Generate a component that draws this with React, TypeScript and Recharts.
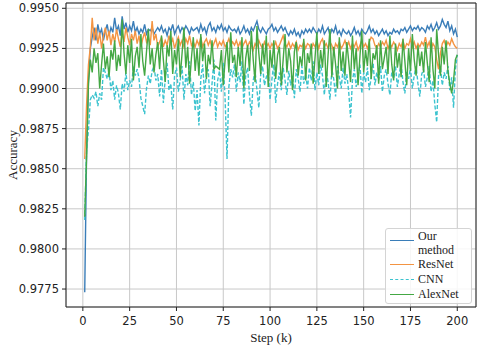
import React from "react";
import { CartesianGrid, Line, LineChart, ReferenceLine, XAxis, YAxis } from "recharts";

// accuracy per step (k), steps 1..200
const ourMethod = [
  0.9773, 0.9860, 0.9905, 0.9925, 0.9932, 0.9938, 0.9930, 0.9940, 0.9934, 0.9937,
  0.9930, 0.9936, 0.9940, 0.9933, 0.9938, 0.9935, 0.9944, 0.9936, 0.9939, 0.9933,
  0.9945, 0.9937, 0.9941, 0.9935, 0.9939, 0.9936, 0.9942, 0.9935, 0.9938, 0.9934,
  0.9937, 0.9935, 0.9940, 0.9934, 0.9937, 0.9936, 0.9938, 0.9934, 0.9936, 0.9938,
  0.9936, 0.9939, 0.9935, 0.9937, 0.9933, 0.9938, 0.9936, 0.9940, 0.9934, 0.9937,
  0.9939, 0.9935, 0.9938, 0.9936, 0.9939, 0.9937, 0.9934, 0.9938, 0.9936, 0.9937,
  0.9938, 0.9935, 0.9940, 0.9936, 0.9938, 0.9934, 0.9939, 0.9941, 0.9936, 0.9938,
  0.9935, 0.9939, 0.9937, 0.9940, 0.9936, 0.9938, 0.9935, 0.9939, 0.9937, 0.9936,
  0.9937, 0.9935, 0.9938, 0.9934, 0.9936, 0.9939, 0.9935, 0.9937, 0.9934, 0.9938,
  0.9936, 0.9939, 0.9942, 0.9937, 0.9935, 0.9938, 0.9936, 0.9934, 0.9937, 0.9938,
  0.9940, 0.9936, 0.9938, 0.9935, 0.9937, 0.9939, 0.9936, 0.9938, 0.9935, 0.9933,
  0.9936, 0.9934, 0.9937, 0.9933, 0.9935, 0.9932, 0.9936, 0.9934, 0.9937, 0.9935,
  0.9937, 0.9935, 0.9938, 0.9936, 0.9934, 0.9937, 0.9935, 0.9939, 0.9934, 0.9936,
  0.9938, 0.9933, 0.9937, 0.9935, 0.9939, 0.9934, 0.9936, 0.9933, 0.9937, 0.9935,
  0.9934, 0.9936, 0.9933, 0.9935, 0.9938, 0.9934, 0.9936, 0.9933, 0.9937, 0.9935,
  0.9934, 0.9936, 0.9939, 0.9935, 0.9937, 0.9934, 0.9936, 0.9933, 0.9935, 0.9937,
  0.9934, 0.9936, 0.9933, 0.9935, 0.9934, 0.9937, 0.9935, 0.9936, 0.9934, 0.9937,
  0.9936, 0.9938, 0.9935, 0.9937, 0.9939, 0.9936, 0.9938, 0.9937, 0.9939, 0.9936,
  0.9938, 0.9937, 0.9935, 0.9939, 0.9937, 0.9940, 0.9936, 0.9938, 0.9941, 0.9937,
  0.9939, 0.9943, 0.9940, 0.9938, 0.9942, 0.9936, 0.9939, 0.9934, 0.9937, 0.9932,
];

const resNet = [
  0.9856, 0.9890, 0.9915, 0.9926, 0.9944, 0.9930, 0.9938, 0.9928, 0.9935, 0.9925,
  0.9933, 0.9938, 0.9930, 0.9936, 0.9927, 0.9934, 0.9929, 0.9937, 0.9931, 0.9926,
  0.9935, 0.9929, 0.9938, 0.9932, 0.9927, 0.9934, 0.9930, 0.9936, 0.9928, 0.9933,
  0.9926, 0.9931, 0.9935, 0.9929, 0.9932, 0.9927, 0.9942, 0.9930, 0.9934, 0.9926,
  0.9929, 0.9932, 0.9926, 0.9930, 0.9927, 0.9933, 0.9928, 0.9931, 0.9925, 0.9929,
  0.9932, 0.9927, 0.9930, 0.9926, 0.9931, 0.9928, 0.9933, 0.9927, 0.9929, 0.9926,
  0.9930, 0.9927, 0.9932, 0.9926, 0.9929, 0.9931, 0.9927, 0.9930, 0.9925, 0.9928,
  0.9931, 0.9926, 0.9929, 0.9927, 0.9930, 0.9926, 0.9928, 0.9931, 0.9927, 0.9929,
  0.9927, 0.9930, 0.9926, 0.9929, 0.9925, 0.9928, 0.9930, 0.9926, 0.9929, 0.9927,
  0.9924, 0.9928, 0.9926, 0.9930, 0.9927, 0.9925, 0.9929, 0.9926, 0.9928, 0.9925,
  0.9928, 0.9926, 0.9929, 0.9925, 0.9927, 0.9930, 0.9933, 0.9928, 0.9926, 0.9929,
  0.9925, 0.9928, 0.9926, 0.9929, 0.9924, 0.9927, 0.9926, 0.9929, 0.9925, 0.9928,
  0.9927, 0.9924, 0.9928, 0.9926, 0.9930, 0.9925, 0.9929, 0.9931, 0.9926, 0.9928,
  0.9925, 0.9929, 0.9927, 0.9923, 0.9928, 0.9926, 0.9929, 0.9925, 0.9927, 0.9930,
  0.9926, 0.9929, 0.9925, 0.9928, 0.9926, 0.9929, 0.9924, 0.9927, 0.9930, 0.9926,
  0.9928, 0.9925, 0.9929, 0.9932, 0.9931, 0.9927, 0.9925, 0.9928, 0.9926, 0.9929,
  0.9927, 0.9930, 0.9925, 0.9928, 0.9926, 0.9929, 0.9927, 0.9924, 0.9928, 0.9926,
  0.9930, 0.9925, 0.9928, 0.9927, 0.9931, 0.9926, 0.9929, 0.9925, 0.9928, 0.9926,
  0.9929, 0.9927, 0.9932, 0.9926, 0.9929, 0.9924, 0.9928, 0.9926, 0.9918, 0.9912,
  0.9922, 0.9928, 0.9930, 0.9926, 0.9929, 0.9927, 0.9931, 0.9928, 0.9926, 0.9925,
];

const cnn = [
  0.9818, 0.9862, 0.9874, 0.9893, 0.9896, 0.9894, 0.9898, 0.9889, 0.9897, 0.9893,
  0.9913, 0.9910, 0.9906, 0.9911, 0.9899, 0.9905, 0.9893, 0.9902, 0.9897, 0.9887,
  0.9903, 0.9898, 0.9910, 0.9899, 0.9905, 0.9901, 0.9914, 0.9908, 0.9912, 0.9906,
  0.9894, 0.9889, 0.9884, 0.9900, 0.9908, 0.9903, 0.9911, 0.9914, 0.9905, 0.9909,
  0.9895, 0.9912, 0.9891, 0.9906, 0.9916, 0.9899, 0.9903, 0.9887, 0.9908, 0.9913,
  0.9898, 0.9905, 0.9914, 0.9893, 0.9909, 0.9902, 0.9917, 0.9896, 0.9904, 0.9886,
  0.9899, 0.9877, 0.9906, 0.9915, 0.9897, 0.9909, 0.9912, 0.9889, 0.9903, 0.9918,
  0.9880, 0.9905, 0.9911, 0.9898, 0.9916, 0.9893, 0.9856, 0.9901, 0.9912, 0.9907,
  0.9915, 0.9898, 0.9910, 0.9904, 0.9917, 0.9890, 0.9908, 0.9913, 0.9896, 0.9883,
  0.9905, 0.9911, 0.9899, 0.9888, 0.9909, 0.9914, 0.9902, 0.9907, 0.9912, 0.9893,
  0.9906, 0.9915, 0.9891, 0.9903, 0.9910, 0.9899, 0.9913, 0.9905, 0.9896, 0.9911,
  0.9902, 0.9908, 0.9894, 0.9912, 0.9906, 0.9898, 0.9914, 0.9903, 0.9909, 0.9900,
  0.9913, 0.9905, 0.9917, 0.9899, 0.9910, 0.9902, 0.9915, 0.9908, 0.9896, 0.9911,
  0.9904, 0.9893, 0.9912, 0.9906, 0.9895, 0.9914, 0.9907, 0.9900, 0.9913, 0.9903,
  0.9909, 0.9898, 0.9882, 0.9905, 0.9912, 0.9901, 0.9908, 0.9915, 0.9897, 0.9910,
  0.9904, 0.9913, 0.9899, 0.9907, 0.9916, 0.9902, 0.9910, 0.9905, 0.9914, 0.9898,
  0.9908, 0.9912, 0.9903, 0.9896, 0.9910, 0.9906, 0.9914, 0.9901, 0.9909, 0.9915,
  0.9904, 0.9897, 0.9911, 0.9906, 0.9913, 0.9900, 0.9908, 0.9914, 0.9903, 0.9895,
  0.9909, 0.9912, 0.9901, 0.9907, 0.9914, 0.9898, 0.9905, 0.9890, 0.9879, 0.9908,
  0.9913, 0.9902, 0.9910, 0.9906, 0.9914, 0.9899, 0.9907, 0.9888, 0.9912, 0.9921,
];

const alexNet = [
  0.9820, 0.9858, 0.9903, 0.9918, 0.9910, 0.9925, 0.9916, 0.9922, 0.9900, 0.9915,
  0.9928, 0.9912, 0.9920, 0.9907, 0.9924, 0.9918, 0.9930, 0.9911, 0.9921, 0.9914,
  0.9943, 0.9922, 0.9909, 0.9927, 0.9916, 0.9931, 0.9905, 0.9920, 0.9926, 0.9913,
  0.9934, 0.9917, 0.9908, 0.9923, 0.9937, 0.9915, 0.9925, 0.9910, 0.9921, 0.9929,
  0.9912, 0.9933, 0.9918, 0.9904, 0.9927, 0.9920, 0.9936, 0.9909, 0.9924, 0.9915,
  0.9931, 0.9907, 0.9922, 0.9938, 0.9913, 0.9926, 0.9903, 0.9919, 0.9932, 0.9911,
  0.9925, 0.9908, 0.9934, 0.9917, 0.9928, 0.9906, 0.9921, 0.9915, 0.9930, 0.9912,
  0.9914, 0.9913, 0.9912, 0.9924, 0.9902, 0.9918, 0.9929, 0.9910, 0.9935, 0.9916,
  0.9921, 0.9907, 0.9926, 0.9914, 0.9932, 0.9900, 0.9919, 0.9927, 0.9911, 0.9936,
  0.9918, 0.9904, 0.9939, 0.9922, 0.9909, 0.9928, 0.9915, 0.9933, 0.9901, 0.9924,
  0.9913, 0.9930, 0.9906, 0.9921, 0.9926, 0.9902, 0.9918, 0.9934, 0.9910, 0.9925,
  0.9917, 0.9899, 0.9923, 0.9929, 0.9908, 0.9920, 0.9914, 0.9931, 0.9905, 0.9922,
  0.9916, 0.9928, 0.9903, 0.9919, 0.9935, 0.9909, 0.9924, 0.9913, 0.9930, 0.9901,
  0.9921, 0.9937, 0.9907, 0.9926, 0.9915, 0.9900, 0.9932, 0.9911, 0.9923, 0.9908,
  0.9929, 0.9917, 0.9904, 0.9933, 0.9912, 0.9925, 0.9902, 0.9920, 0.9936, 0.9910,
  0.9924, 0.9914, 0.9931, 0.9906, 0.9922, 0.9918, 0.9927, 0.9903, 0.9930, 0.9912,
  0.9919, 0.9926, 0.9909, 0.9933, 0.9915, 0.9905, 0.9928, 0.9913, 0.9922, 0.9907,
  0.9931, 0.9917, 0.9902, 0.9925, 0.9911, 0.9934, 0.9918, 0.9908, 0.9927, 0.9914,
  0.9923, 0.9910, 0.9929, 0.9916, 0.9904, 0.9932, 0.9912, 0.9900, 0.9937, 0.9921,
  0.9908, 0.9926, 0.9915, 0.9930, 0.9911, 0.9903, 0.9897, 0.9905, 0.9918, 0.9921,
];

const xTicks = [0, 25, 50, 75, 100, 125, 150, 175, 200];
const yTicks = [0.9775, 0.98, 0.9825, 0.985, 0.9875, 0.99, 0.9925, 0.995];

const data = ourMethod.map((v, i) => ({
  step: i + 1,
  ours: v,
  resnet: resNet[i],
  cnn: cnn[i],
  alexnet: alexNet[i],
}));

const X_MIN = -9;
const X_MAX = 210;
const Y_MIN = 0.97638;
const Y_MAX = 0.99533;

const tickStyle = { fontFamily: "DejaVu Sans", fontSize: 11.5, fill: "#222" };
const serif = "'Liberation Serif', 'Times New Roman', serif";

const legendItems = [
  { label: ["Our", "method"], color: "#3a7db8", dash: false, textTop: 0, lineTop: 11 },
  { label: ["ResNet"], color: "#f39442", dash: false, textTop: 28, lineTop: 35 },
  { label: ["CNN"], color: "#3cc3cf", dash: true, textTop: 43, lineTop: 50 },
  { label: ["AlexNet"], color: "#44a844", dash: false, textTop: 58, lineTop: 65 },
];

const LegendBox = () => (
  <div
    style={{
      position: "absolute",
      left: 385,
      top: 228,
      width: 85,
      height: 74,
      background: "rgba(255,255,255,0.85)",
      border: "1px solid #d4d4d4",
      borderRadius: 3,
      fontFamily: serif,
      fontSize: 12,
      color: "#222",
    }}
  >
    {legendItems.map((it) => (
      <React.Fragment key={it.label.join(" ")}>
        <div
          style={{
            position: "absolute",
            left: 4,
            top: it.lineTop,
            width: 24,
            borderTop: `1.5px ${it.dash ? "dashed" : "solid"} ${it.color}`,
          }}
        />
        <div style={{ position: "absolute", left: 32, top: it.textTop, lineHeight: "14px" }}>
          {it.label.map((l) => (
            <div key={l}>{l}</div>
          ))}
        </div>
      </React.Fragment>
    ))}
  </div>
);

export default function App() {
  return (
    <div style={{ position: "absolute", left: 0, top: 0, width: 480, height: 345, background: "#fff" }}>
      <LineChart width={480} height={345} data={data} margin={{ top: 3, right: 4, left: 0, bottom: 0 }}>
        <CartesianGrid stroke="#c8c8c8" strokeWidth={1} />
        <XAxis
          dataKey="step"
          type="number"
          domain={[X_MIN, X_MAX]}
          ticks={xTicks}
          allowDataOverflow
          height={38}
          tick={tickStyle}
          tickSize={4}
          tickMargin={6}
          stroke="#222"
          label={{ value: "Step (k)", position: "insideBottom", offset: 3, style: { fontFamily: serif, fontSize: 13, fill: "#222" } }}
        />
        <YAxis
          type="number"
          domain={[Y_MIN, Y_MAX]}
          ticks={yTicks}
          allowDataOverflow
          width={66}
          tick={tickStyle}
          tickSize={4}
          tickMargin={3}
          stroke="#222"
          tickFormatter={(v: number) => v.toFixed(4)}
          label={{ value: "Accuracy", angle: -90, position: "insideLeft", offset: 12, style: { fontFamily: serif, fontSize: 13, fill: "#222", textAnchor: "middle" } }}
        />
        <ReferenceLine x={X_MAX} stroke="#222" />
        <ReferenceLine y={Y_MAX} stroke="#222" />
        <Line dataKey="ours" stroke="#3a7db8" strokeWidth={1.4} dot={false} isAnimationActive={false} />
        <Line dataKey="resnet" stroke="#f39442" strokeWidth={1.4} dot={false} isAnimationActive={false} />
        <Line dataKey="cnn" stroke="#3cc3cf" strokeWidth={1.4} strokeDasharray="4 2" dot={false} isAnimationActive={false} />
        <Line dataKey="alexnet" stroke="#44a844" strokeWidth={1.4} dot={false} isAnimationActive={false} />
      </LineChart>
      <LegendBox />
    </div>
  );
}
